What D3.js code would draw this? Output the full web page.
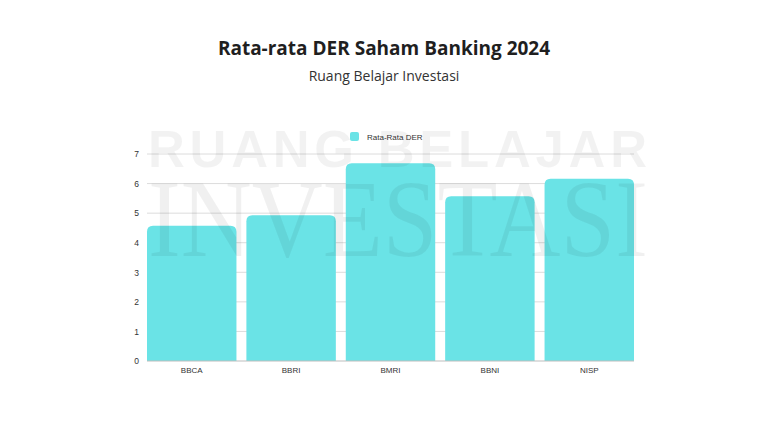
<!DOCTYPE html>
<html><head><meta charset="utf-8">
<script src="https://cdn.jsdelivr.net/npm/d3@7"></script>
<style>html,body{margin:0;padding:0;background:#fff;}svg{display:block;}</style>
</head><body>
<script>
const categories = ["BBCA","BBRI","BMRI","BBNI","NISP"];
const values = [4.57, 4.93, 6.69, 5.57, 6.16];
const yTicks = [0,1,2,3,4,5,6,7];
const seriesName = "Rata-Rata DER";
const title = "Rata-rata DER Saham Banking 2024";
const subtitle = "Ruang Belajar Investasi";

const W = 768, H = 424;
const svg = d3.select("body").append("svg").attr("width", W).attr("height", H);
svg.append("rect").attr("width", W).attr("height", H).attr("fill", "#fff");

const x = d3.scaleBand().domain(categories).range([147, 634]).paddingInner(0.1).paddingOuter(0);
const y = d3.scaleLinear().domain([0, 7]).range([361, 154]);

// title
svg.append("text").attr("x", 384).attr("y", 55).attr("text-anchor", "middle")
  .attr("font-family", "Open Sans, sans-serif").attr("font-weight", 700).attr("font-size", 19)
  .attr("fill", "#1f1f1f").text(title);
svg.append("text").attr("x", 384).attr("y", 81).attr("text-anchor", "middle")
  .attr("font-family", "Open Sans, sans-serif").attr("font-size", 14)
  .attr("fill", "#333").text(subtitle);

// gridlines
const yAxis = d3.axisLeft(y).tickValues(yTicks).tickSize(0).tickPadding(8).tickFormat(d3.format("d"));
const gy = svg.append("g").attr("transform", "translate(147,0)").call(yAxis);
gy.select(".domain").remove();
gy.selectAll("text").attr("font-family", "Liberation Sans, Arial, sans-serif").attr("font-size", 8.5).attr("fill", "#333");
svg.append("g").selectAll("line").data(yTicks.filter(d => d > 0)).join("line")
  .attr("x1", 147).attr("x2", 634).attr("y1", d => y(d)).attr("y2", d => y(d))
  .attr("stroke", "#dcdcdc").attr("stroke-width", 1);

// bars with rounded tops
const r = 6;
svg.append("g").selectAll("path").data(categories).join("path")
  .attr("fill", "#6ae3e6")
  .attr("d", (c, i) => {
    const x0 = x(c), w = x.bandwidth(), y0 = y(values[i]), yb = y(0);
    return `M${x0},${yb}V${y0 + r}Q${x0},${y0} ${x0 + r},${y0}H${x0 + w - r}Q${x0 + w},${y0} ${x0 + w},${y0 + r}V${yb}Z`;
  });

// baseline
svg.append("line").attr("x1", 147).attr("x2", 634).attr("y1", y(0)).attr("y2", y(0))
  .attr("stroke", "#bdbdbd").attr("stroke-width", 1);

// x axis
const xAxis = d3.axisBottom(x).tickSize(0).tickPadding(6);
const gx = svg.append("g").attr("transform", `translate(0,${y(0)})`).call(xAxis);
gx.select(".domain").remove();
gx.selectAll("text").attr("font-family", "Liberation Sans, Arial, sans-serif").attr("font-size", 8).attr("fill", "#333");

// legend
svg.append("rect").attr("x", 350).attr("y", 132).attr("width", 9).attr("height", 9).attr("rx", 2).attr("fill", "#6ae3e6");
svg.append("text").attr("x", 367).attr("y", 140).attr("font-family", "Liberation Sans, Arial, sans-serif")
  .attr("font-size", 8).attr("fill", "#333").text(seriesName);

// watermark
const wm = svg.append("g").attr("pointer-events", "none");
wm.append("text").attr("x", 148).attr("y", 167).attr("textLength", 499).attr("lengthAdjust", "spacing")
  .attr("font-family", "Liberation Sans, Arial, sans-serif").attr("font-weight", 700).attr("font-size", 51)
  .attr("fill", "#000").attr("fill-opacity", 0.05).text("RUANG BELAJAR");
wm.append("text").attr("x", 148).attr("y", 256).attr("textLength", 500).attr("lengthAdjust", "spacingAndGlyphs")
  .attr("font-family", "Liberation Serif, Times New Roman, serif").attr("font-size", 110)
  .attr("fill", "#000").attr("fill-opacity", 0.06).text("INVESTASI");
</script>
</body></html>
